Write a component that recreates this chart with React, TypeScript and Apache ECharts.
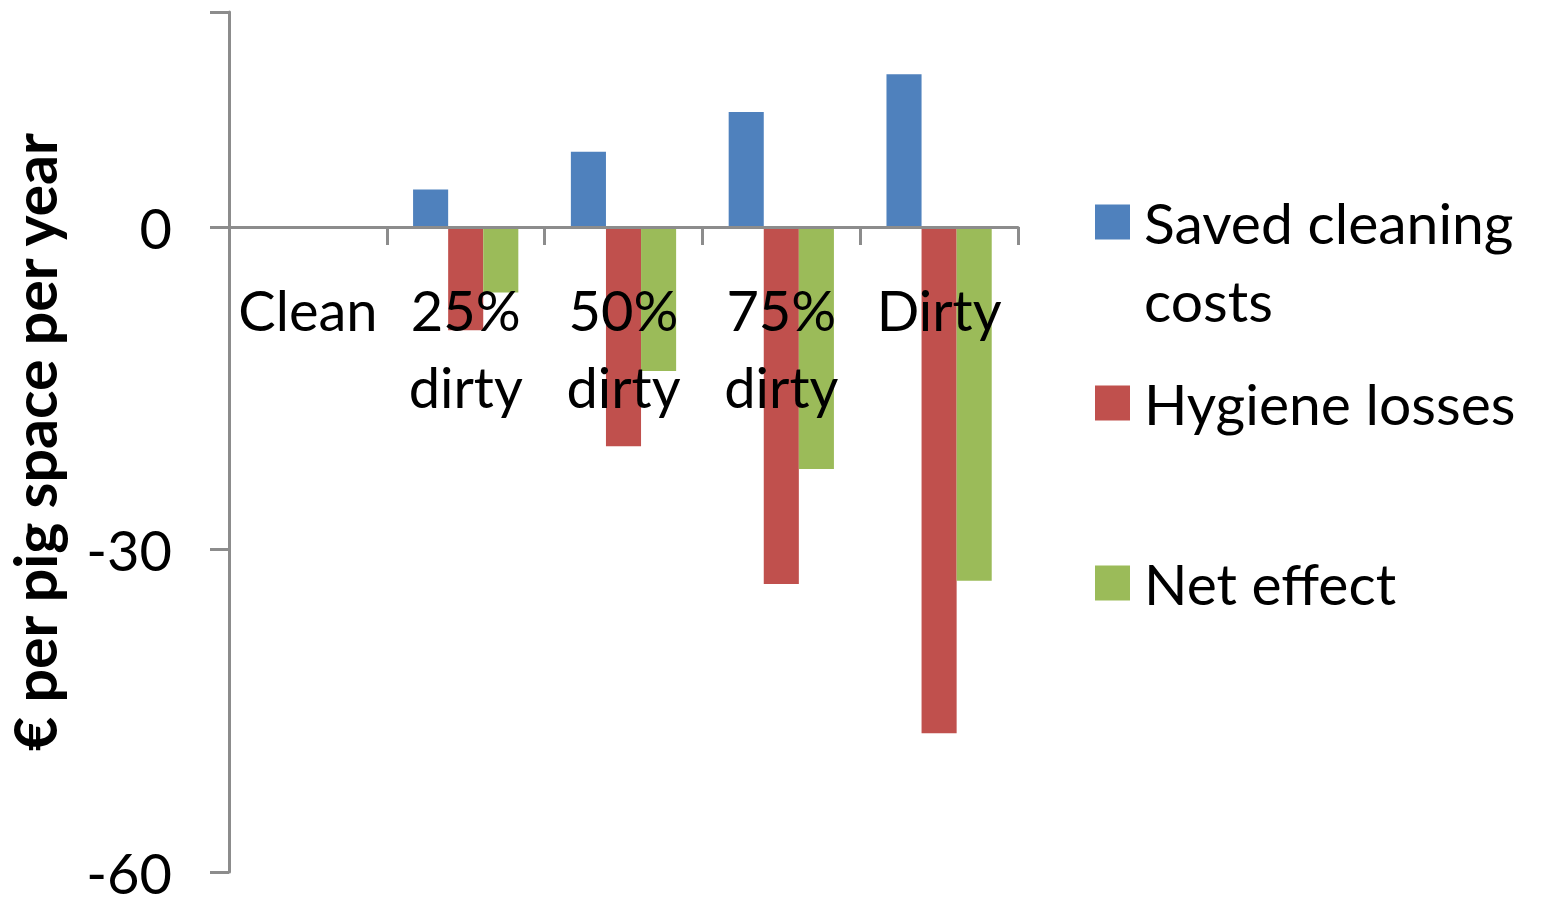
import React, { useEffect, useRef } from "react";
import * as echarts from "echarts";

const categories = ["Clean", "25%\ndirty", "50%\ndirty", "75%\ndirty", "Dirty"];
const savedCleaning = [0, 3.5, 7.0, 10.7, 14.2];
const hygieneLosses = [0, -9.6, -20.4, -33.2, -47.1];
const netEffect = [0, -6.1, -13.4, -22.5, -32.9];
const yTicks = [-60, -30, 0];

const FONT = "Lato";
const AXIS_GRAY = "#8c8c8c";

export default function App() {
  const ref = useRef<HTMLDivElement>(null);
  useEffect(() => {
    if (!ref.current) return;
    const chart = echarts.init(ref.current, null, { renderer: "svg" });
    const legendText = { fontFamily: FONT, fontSize: 57, color: "#000", lineHeight: 78, padding: [0, 0, 0, 9] };
    const legendBase = {
      orient: "vertical",
      left: 1095,
      padding: 0,
      itemWidth: 35,
      itemHeight: 35,
      itemGap: 0,
      icon: "rect",
      textStyle: legendText,
    };
    chart.setOption({
      animation: false,
      backgroundColor: "#fff",
      textStyle: { fontFamily: FONT },
      grid: { left: 229, right: 529, top: 12, bottom: 29, containLabel: false, outerBoundsMode: "none" },
      legend: [
        {
          ...legendBase,
          top: 105,
          data: ["Saved cleaning costs"],
          formatter: () => "\nSaved cleaning\ncosts",
        },
        { ...legendBase, top: 364, data: ["Hygiene losses"] },
        { ...legendBase, top: 544, data: ["Net effect"] },
      ],
      xAxis: {
        type: "category",
        data: categories,
        z: 10,
        position: "bottom",
        offset: -645,
        axisLine: { onZero: false, lineStyle: { color: AXIS_GRAY, width: 3 } },
        axisTick: { show: true, length: 18, lineStyle: { color: AXIS_GRAY, width: 3 } },
        axisLabel: {
          interval: 0,
          margin: 44,
          fontFamily: FONT,
          fontSize: 56,
          lineHeight: 77,
          color: "#000",
        },
        splitLine: { show: false },
      },
      yAxis: {
        type: "value",
        min: -60,
        max: 20,
        interval: 30,
        name: "€ per pig space per year",
        nameLocation: "middle",
        nameGap: 165,
        nameTextStyle: { fontFamily: FONT, fontSize: 59, fontWeight: "bold", color: "#000" },
        axisLine: { show: true, lineStyle: { color: AXIS_GRAY, width: 3 } },
        axisTick: { show: true, length: 19, lineStyle: { color: AXIS_GRAY, width: 3 } },
        axisLabel: {
          margin: 57,
          fontFamily: FONT,
          fontSize: 56,
          lineHeight: 44,
          color: "#000",
          formatter: (v: number) => (yTicks.includes(v) ? String(v) : ""),
        },
        splitLine: { show: false },
      },
      series: [
        {
          name: "Saved cleaning costs",
          type: "bar",
          data: savedCleaning,
          itemStyle: { color: "#4F81BD" },
          barGap: "0%",
          barCategoryGap: "33.3%",
        },
        {
          name: "Hygiene losses",
          type: "bar",
          data: hygieneLosses,
          itemStyle: { color: "#C0504D" },
          barGap: "0%",
          barCategoryGap: "33.3%",
        },
        {
          name: "Net effect",
          type: "bar",
          data: netEffect,
          itemStyle: { color: "#9BBB59" },
          barGap: "0%",
          barCategoryGap: "33.3%",
        },
      ],
    });
    return () => chart.dispose();
  }, []);
  return (
    <div
      ref={ref}
      style={{ position: "fixed", left: 0, top: 0, width: 1547, height: 901, background: "#fff" }}
    />
  );
}
